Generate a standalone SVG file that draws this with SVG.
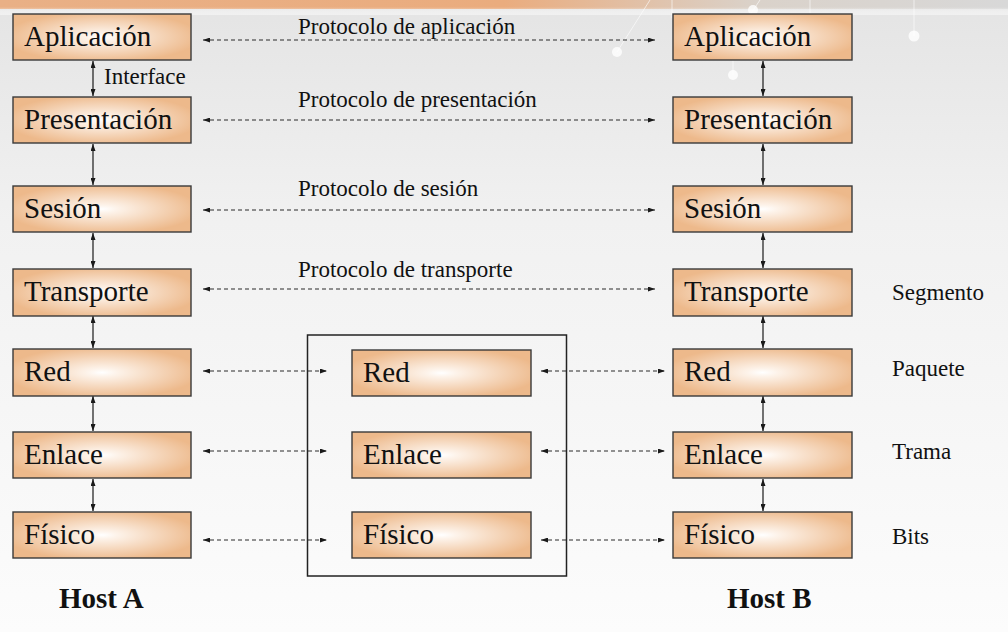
<svg xmlns="http://www.w3.org/2000/svg" width="1008" height="632" viewBox="0 0 1008 632">
<style>
.box{stroke:#3a3a3a;stroke-width:1.4;fill:url(#boxg)}
.lbl{font-family:"Liberation Serif","Times New Roman",serif;font-size:29px;fill:#111}
.txt{font-family:"Liberation Serif","Times New Roman",serif;font-size:23px;fill:#111}
.host{font-family:"Liberation Serif","Times New Roman",serif;font-size:29px;font-weight:bold;fill:#111}
.dash{stroke:#2a2a2a;stroke-width:1.2;stroke-dasharray:4 3;fill:none;marker-start:url(#ah);marker-end:url(#ah)}
.solid{stroke:#2a2a2a;stroke-width:1.3;fill:none;marker-start:url(#ah);marker-end:url(#ah)}
.deco{stroke:#ffffff;stroke-width:1;fill:none;opacity:0.6}
</style>
<defs>
<radialGradient id="boxg" cx="0.5" cy="0.5" r="0.55">
<stop offset="0" stop-color="#ffffff"/>
<stop offset="0.15" stop-color="#fdf3ea"/>
<stop offset="1" stop-color="#edb98b"/>
</radialGradient>
<linearGradient id="bg" x1="0" y1="0" x2="0" y2="1">
<stop offset="0" stop-color="#e4e4e4"/>
<stop offset="0.35" stop-color="#f1f1f1"/>
<stop offset="1" stop-color="#fcfcfc"/>
</linearGradient>
<linearGradient id="topband" x1="0" y1="0" x2="1" y2="0">
<stop offset="0" stop-color="#e9b086"/>
<stop offset="0.5" stop-color="#eaac7e"/>
<stop offset="0.75" stop-color="#dad2ca"/>
<stop offset="1" stop-color="#d8d8d8"/>
</linearGradient>
<linearGradient id="topfade" x1="0" y1="0" x2="0" y2="1">
<stop offset="0" stop-color="#ffffff" stop-opacity="0"/>
<stop offset="1" stop-color="#f0f0f0" stop-opacity="1"/>
</linearGradient>
<marker id="ah" viewBox="0 0 7 5" refX="7" refY="2.5" markerWidth="7" markerHeight="5" markerUnits="userSpaceOnUse" orient="auto-start-reverse">
<path d="M0,0 L7,2.5 L0,5 z" fill="#1a1a1a"/>
</marker>
</defs>

<g id="background">
<rect x="0" y="0" width="1008" height="632" fill="url(#bg)"/>
<rect x="0" y="0" width="1008" height="9" fill="url(#topband)"/>
<rect x="0" y="7" width="1008" height="8" fill="url(#topfade)"/>
<path class="deco" d="M617,52 L650,0 M733,75 L733,40 L760,0 M914,36 L914,0 M672,0 L672,18 L810,18 L810,0"/>
<circle cx="617" cy="52" r="5" fill="#ffffff" opacity="0.8"/>
<circle cx="733" cy="75" r="5" fill="#ffffff" opacity="0.8"/>
<circle cx="914" cy="36" r="5.5" fill="#ffffff" opacity="0.8"/>
<circle cx="753" cy="10" r="5" fill="#ffffff" opacity="0.8"/>
</g>

<g id="connectors">
<line class="dash" x1="203" y1="40" x2="655" y2="40"/>
<line class="dash" x1="203" y1="120" x2="655" y2="120"/>
<line class="dash" x1="203" y1="210" x2="655" y2="210"/>
<line class="dash" x1="203" y1="289" x2="655" y2="289"/>
<line class="dash" x1="203" y1="371" x2="327" y2="371"/>
<line class="dash" x1="203" y1="451" x2="327" y2="451"/>
<line class="dash" x1="203" y1="540" x2="327" y2="540"/>
<line class="dash" x1="541" y1="371" x2="665" y2="371"/>
<line class="dash" x1="541" y1="451" x2="665" y2="451"/>
<line class="dash" x1="541" y1="540" x2="665" y2="540"/>
<line class="solid" x1="93" y1="61" x2="93" y2="96"/>
<line class="solid" x1="93" y1="144" x2="93" y2="185"/>
<line class="solid" x1="93" y1="233" x2="93" y2="268"/>
<line class="solid" x1="93" y1="316" x2="93" y2="348"/>
<line class="solid" x1="93" y1="396" x2="93" y2="431"/>
<line class="solid" x1="93" y1="479" x2="93" y2="511"/>
<line class="solid" x1="763" y1="61" x2="763" y2="96"/>
<line class="solid" x1="763" y1="144" x2="763" y2="185"/>
<line class="solid" x1="763" y1="233" x2="763" y2="268"/>
<line class="solid" x1="763" y1="316" x2="763" y2="348"/>
<line class="solid" x1="763" y1="396" x2="763" y2="431"/>
<line class="solid" x1="763" y1="479" x2="763" y2="511"/>
</g>

<g id="router">
<rect x="307.5" y="335" width="259" height="241" fill="none" stroke="#222" stroke-width="1.5"/>
</g>

<g id="hostA">
<g id="a-aplicacion"><rect class="box" x="13" y="14" width="178" height="46"/><text class="lbl" x="24" y="46">Aplicación</text></g>
<g id="a-presentacion"><rect class="box" x="13" y="97" width="178" height="46"/><text class="lbl" x="24" y="129">Presentación</text></g>
<g id="a-sesion"><rect class="box" x="13" y="186" width="178" height="46"/><text class="lbl" x="24" y="218">Sesión</text></g>
<g id="a-transporte"><rect class="box" x="13" y="269" width="178" height="47"/><text class="lbl" x="24" y="301">Transporte</text></g>
<g id="a-red"><rect class="box" x="13" y="349" width="178" height="47"/><text class="lbl" x="24" y="381">Red</text></g>
<g id="a-enlace"><rect class="box" x="13" y="432" width="178" height="46"/><text class="lbl" x="24" y="464">Enlace</text></g>
<g id="a-fisico"><rect class="box" x="13" y="512" width="178" height="46"/><text class="lbl" x="24" y="544">Físico</text></g>
</g>

<g id="middle">
<g id="m-red"><rect class="box" x="352" y="350" width="179" height="46"/><text class="lbl" x="363" y="382">Red</text></g>
<g id="m-enlace"><rect class="box" x="352" y="432" width="179" height="46"/><text class="lbl" x="363" y="464">Enlace</text></g>
<g id="m-fisico"><rect class="box" x="352" y="512" width="179" height="46"/><text class="lbl" x="363" y="544">Físico</text></g>
</g>

<g id="hostB">
<g id="b-aplicacion"><rect class="box" x="673" y="14" width="179" height="46"/><text class="lbl" x="684" y="46">Aplicación</text></g>
<g id="b-presentacion"><rect class="box" x="673" y="97" width="179" height="46"/><text class="lbl" x="684" y="129">Presentación</text></g>
<g id="b-sesion"><rect class="box" x="673" y="186" width="179" height="46"/><text class="lbl" x="684" y="218">Sesión</text></g>
<g id="b-transporte"><rect class="box" x="673" y="269" width="179" height="47"/><text class="lbl" x="684" y="301">Transporte</text></g>
<g id="b-red"><rect class="box" x="673" y="349" width="179" height="47"/><text class="lbl" x="684" y="381">Red</text></g>
<g id="b-enlace"><rect class="box" x="673" y="432" width="179" height="46"/><text class="lbl" x="684" y="464">Enlace</text></g>
<g id="b-fisico"><rect class="box" x="673" y="512" width="179" height="46"/><text class="lbl" x="684" y="544">Físico</text></g>
</g>

<g id="labels">
<text class="txt" x="298" y="34">Protocolo de aplicación</text>
<text class="txt" x="298" y="107">Protocolo de presentación</text>
<text class="txt" x="298" y="196">Protocolo de sesión</text>
<text class="txt" x="298" y="277">Protocolo de transporte</text>
<text class="txt" x="104" y="84">Interface</text>
<text class="txt" x="892" y="300">Segmento</text>
<text class="txt" x="892" y="376">Paquete</text>
<text class="txt" x="892" y="459">Trama</text>
<text class="txt" x="892" y="544">Bits</text>
<text class="host" x="59" y="608">Host A</text>
<text class="host" x="727" y="608">Host B</text>
</g>
</svg>
